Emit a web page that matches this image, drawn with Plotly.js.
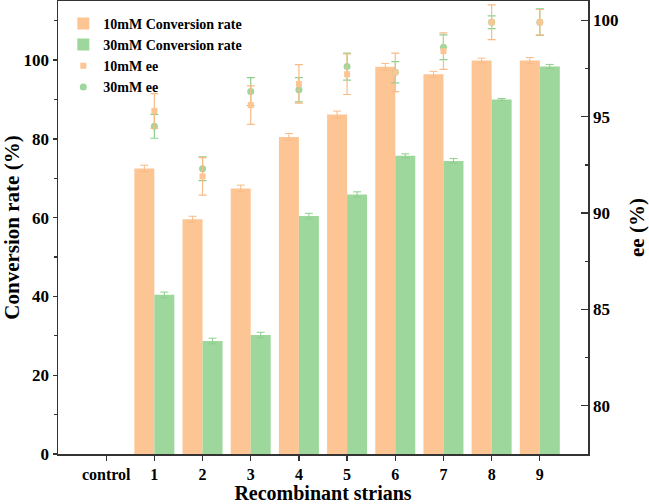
<!DOCTYPE html>
<html>
<head>
<meta charset="utf-8">
<script src="https://cdn.plot.ly/plotly-3.0.1.min.js"></script>
<style>html,body{margin:0;padding:0;background:#fff}#chart{width:649px;height:504px}</style>
</head>
<body>
<div id="chart"></div>
<script>
const categories = ['control','1','2','3','4','5','6','7','8','9'];

const conv10 = [null, 72.5, 59.6, 67.4, 80.5, 86.2, 98.3, 96.4, 99.9, 99.9];
const conv10Err = [null, 0.8, 0.75, 0.85, 0.85, 0.85, 0.85, 0.75, 0.6, 0.75];
const conv30 = [null, 40.4, 28.7, 30.2, 60.4, 65.9, 75.7, 74.4, 90.0, 98.4];
const conv30Err = [null, 0.7, 0.7, 0.7, 0.7, 0.65, 0.5, 0.6, 0.25, 0.5];

const ee10 = [null, 95.3, 91.9, 95.6, 96.7, 97.2, 97.3, 98.4, 99.9, 99.9];
const ee10Err = [null, 0.9, 0.97, 1.0, 1.0, 1.05, 1.0, 0.95, 0.9, 0.66];
const ee30 = [null, 94.5, 92.3, 96.3, 96.4, 97.6, 97.3, 98.6, 99.9, 99.9];
const ee30Err = [null, 0.62, 0.62, 0.72, 0.63, 0.7, 0.55, 0.64, 0.33, 0.69];

const orange = '#FDC593';
const green = '#9DD79C';
const orangeErr = '#F8BB88';
const greenErr = '#8CCF8C';
const FONT = 'Liberation Serif, Times New Roman, serif';

const traces = [
  {type:'bar', name:'10mM Conversion rate', x:categories, y:conv10, legendrank:1,
   marker:{color:orange, line:{width:0}},
   error_y:{type:'data', array:conv10Err, visible:true, color:orangeErr, thickness:1, width:4}},
  {type:'bar', name:'30mM Conversion rate', x:categories, y:conv30, legendrank:2,
   marker:{color:green, line:{width:0}},
   error_y:{type:'data', array:conv30Err, visible:true, color:greenErr, thickness:1, width:4}},
  {type:'scatter', mode:'markers', name:'30mM ee', x:categories, y:ee30, yaxis:'y2', legendrank:4,
   marker:{symbol:'circle', size:7, color:green},
   error_y:{type:'data', array:ee30Err, visible:true, color:greenErr, thickness:1.2, width:4}},
  {type:'scatter', mode:'markers', name:'10mM ee', x:categories, y:ee10, yaxis:'y2', legendrank:3,
   marker:{symbol:'square', size:6, color:orange},
   error_y:{type:'data', array:ee10Err, visible:true, color:orangeErr, thickness:1.2, width:4}}
];

const axisLine = '#333333';
const layout = {
  width:649, height:504,
  margin:{l:58, r:61, t:1, b:50},
  paper_bgcolor:'#fff', plot_bgcolor:'#fff',
  font:{family:FONT, weight:'bold', color:'#000', size:17},
  barmode:'group', bargap:0.17, bargroupgap:0,
  showlegend:true,
  legend:{x:0.01, y:0.985, xanchor:'left', yanchor:'top', bgcolor:'rgba(0,0,0,0)',
          font:{family:FONT, weight:'bold', size:14, color:'#000'}, tracegroupgap:0, itemwidth:30},
  xaxis:{type:'category', categoryorder:'array', categoryarray:categories, range:[-1,10],
         showline:true, linecolor:axisLine, linewidth:1.5, mirror:true,
         ticks:'outside', ticklen:5, tickcolor:axisLine, tickwidth:1.3,
         tickfont:{family:FONT, weight:'bold', size:16}, showgrid:false, zeroline:false,
         title:{text:'Recombinant strians', font:{family:FONT, weight:'bold', size:20}, standoff:10}},
  yaxis:{range:[0,115], dtick:20, showline:true, linecolor:axisLine, linewidth:1.5,
         ticks:'outside', ticklen:4, tickcolor:axisLine, tickwidth:1.3,
         minor:{dtick:10, ticks:'outside', ticklen:3, tickcolor:axisLine, showgrid:false},
         tickfont:{family:FONT, weight:'bold', size:17}, showgrid:false, zeroline:false,
         title:{text:'Conversion rate (%)', font:{family:FONT, weight:'bold', size:21}, standoff:6}},
  yaxis2:{overlaying:'y', side:'right', range:[77.5,101], dtick:5, showline:true, linecolor:axisLine, linewidth:1.5,
          ticks:'inside', ticklen:7, tickcolor:axisLine, tickwidth:1.3,
          minor:{dtick:2.5, ticks:'inside', ticklen:3, tickcolor:axisLine, showgrid:false},
          tickfont:{family:FONT, weight:'bold', size:17}, showgrid:false, zeroline:false,
          title:{text:'ee (%)', font:{family:FONT, weight:'bold', size:21}, standoff:13}}
};

Plotly.newPlot('chart', traces, layout, {displayModeBar:false, staticPlot:true});
</script>
</body>
</html>
